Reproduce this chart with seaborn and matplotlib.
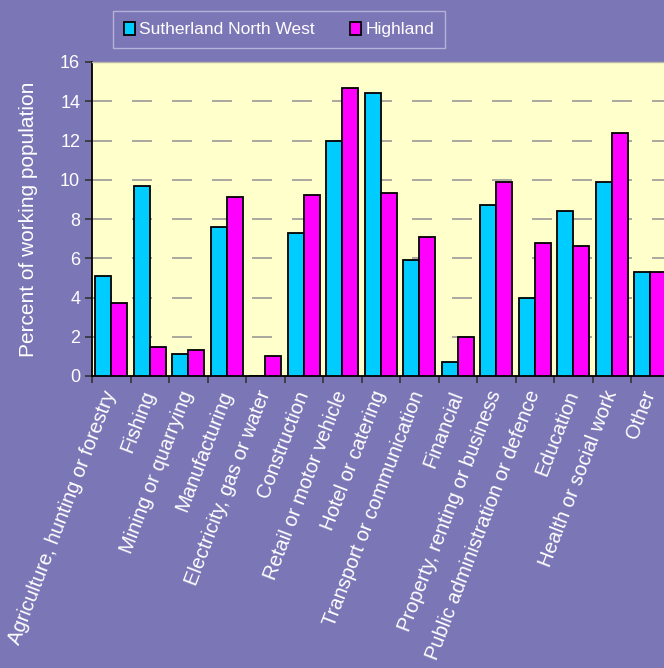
import pandas as pd
import matplotlib
matplotlib.use("Agg")
import matplotlib.pyplot as plt
import seaborn as sns
import numpy as np

# industry categories
industries = ["Agriculture, hunting or forestry", "Fishing", "Mining or quarrying",
              "Manufacturing", "Electricity, gas or water", "Construction",
              "Retail or motor vehicle", "Hotel or catering", "Transport or communication",
              "Financial", "Property, renting or business", "Public administration or defence",
              "Education", "Health or social work", "Other"]

# percent of working population
sutherland_nw = [5.1, 9.7, 1.1, 7.6, 0.0, 7.3, 12.0, 14.4, 5.9, 0.7, 8.7, 4.0, 8.4, 9.9, 5.3]
highland = [3.7, 1.5, 1.3, 9.1, 1.0, 9.2, 14.7, 9.3, 7.1, 2.0, 9.9, 6.8, 6.6, 12.4, 5.3]

series_names = ["Sutherland North West", "Highland"]
yticks = [0, 2, 4, 6, 8, 10, 12, 14, 16]

bg = "#7b76b6"
plot_bg = "#ffffcc"
colors = ["#00ccff", "#ff00ff"]

df = pd.DataFrame({
    "Industry": industries * 2,
    "Series": [series_names[0]] * len(industries) + [series_names[1]] * len(industries),
    "Percent": sutherland_nw + highland,
})

sns.set_style("white")
plt.rcParams["font.family"] = ["Liberation Sans", "DejaVu Sans"]

fig = plt.figure(figsize=(6.64, 6.68), dpi=100, facecolor=bg)
ax = fig.add_axes([92 / 664, 1 - 376 / 668, 577.5 / 664, 314 / 668])
ax.set_facecolor(plot_bg)

sns.barplot(data=df, x="Industry", y="Percent", hue="Series", palette=colors, saturation=1,
            width=0.83, edgecolor="black", linewidth=1.3, ax=ax, zorder=3)

# dashed grid
ax.set_axisbelow(True)
ax.yaxis.grid(True, color="#999999", linestyle=(0, (12, 12)), linewidth=1.2, zorder=0)
ax.set_ylim(0, 16)
ax.set_xlim(-0.5, len(industries) - 0.5)
ax.set_yticks(yticks)
ax.set_yticklabels([str(t) for t in yticks], color="white", fontsize=13)

ax.spines["right"].set_visible(False)
ax.spines["top"].set_color("#b8b8a8")
ax.spines["top"].set_linewidth(1.0)
for s in ["left", "bottom"]:
    ax.spines[s].set_color("black")
    ax.spines[s].set_linewidth(1.3)

ax.tick_params(axis="y", which="major", direction="out", length=5, color="#333333", width=1.2, left=True)

# category boundaries as ticks
ax.set_xticks(np.arange(-0.5, len(industries)), minor=True)
ax.tick_params(axis="x", which="minor", direction="out", length=5, color="#333333", width=1.2, bottom=True)
ax.tick_params(axis="x", which="major", length=0, pad=11)
ax.set_xticks(range(len(industries)))
ax.set_xticklabels(industries, rotation=69, ha="right", va="center",
                   rotation_mode="anchor", color="white", fontsize=14.5)

ax.set_xlabel("")
ax.set_ylabel("Percent of working population", color="white", fontsize=15, labelpad=16)

# legend on top
handles, labels = ax.get_legend_handles_labels()
ax.get_legend().remove()
leg = fig.legend(handles, labels, loc="center", bbox_to_anchor=(279 / 664, 1 - 29.5 / 668),
                 ncol=2, frameon=True, fancybox=False, fontsize=12.5,
                 labelcolor="white", handlelength=0.65, handleheight=0.85, handletextpad=0.25,
                 columnspacing=2.0, borderpad=0.6)
leg.get_frame().set_facecolor(bg)
leg.get_frame().set_edgecolor("#c4c2e0")
leg.get_frame().set_linewidth(1.0)

fig.savefig("out.png", dpi=100, facecolor=bg)
